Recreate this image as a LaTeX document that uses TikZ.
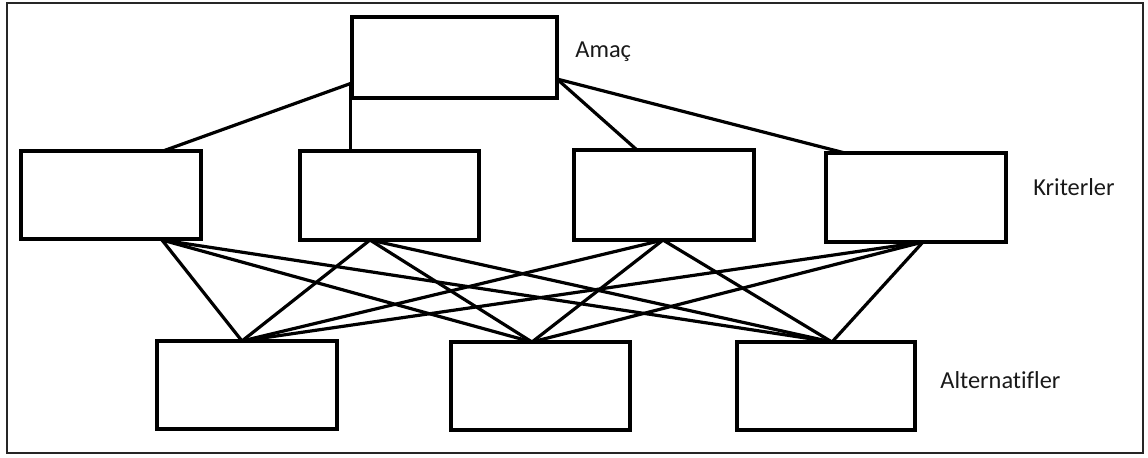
\documentclass[tikz,border=0pt]{standalone}
\usepackage{fontspec}
\setmainfont[Ligatures={NoCommon}]{Carlito}
\begin{document}
\begin{tikzpicture}[x=0.5pt,y=-0.5pt,
  box/.style={draw=black, line width=1.7pt, inner sep=0pt, outer sep=0pt, fill=white},
  link/.style={draw=black, line width=1.6pt, line cap=round},
  lbl/.style={font=\fontsize{12.2}{14}\selectfont, text=black!90, inner sep=0pt, anchor=base west}]
\useasboundingbox (0,0) rectangle (1148,457);
\draw[line width=0.8pt, draw=black!85] (7,3) rectangle (1143,453);
% connection points
\coordinate (gL) at (352,83);
\coordinate (gV) at (350.5,83);
\coordinate (gR) at (557,79);
\coordinate (t1) at (163,151);
\coordinate (t2) at (350.5,151);
\coordinate (t3) at (637,150);
\coordinate (t4) at (845,153);
\coordinate (b1) at (162,240);
\coordinate (b2) at (370,240);
\coordinate (b3) at (663,240);
\coordinate (b4) at (923,242);
\coordinate (u1) at (242,341);
\coordinate (u2) at (532,342);
\coordinate (u3) at (832,342);
% connectors
\draw[link] (gL) -- (t1);
\draw[link] (gV) -- (t2);
\draw[link] (gR) -- (t3);
\draw[link] (gR) -- (t4);
\foreach \c in {b1,b2,b3,b4}{
  \foreach \a in {u1,u2,u3}{
    \draw[link] (\c) -- (\a);
  }
}
% boxes
\node[box, minimum width=102.5pt, minimum height=40.5pt] (goal) at (454.5,57.5) {};
\node[box, minimum width=90pt, minimum height=44pt] (c1) at (111,195) {};
\node[box, minimum width=89.5pt, minimum height=44.5pt] (c2) at (389.5,195.5) {};
\node[box, minimum width=90pt, minimum height=45pt] (c3) at (664,195) {};
\node[box, minimum width=90pt, minimum height=44.5pt] (c4) at (916,197.5) {};
\node[box, minimum width=90pt, minimum height=44pt] (a1) at (247,385) {};
\node[box, minimum width=89.5pt, minimum height=44pt] (a2) at (540.5,386) {};
\node[box, minimum width=89pt, minimum height=44pt] (a3) at (826,386) {};
% labels
\node[lbl] (lgoal) at (575,57) {Amaç};
\node[lbl] (lcrit) at (1033,195) {Kriterler};
\node[lbl] (lalt) at (940,388) {Alternatifler};
\end{tikzpicture}
\end{document}
